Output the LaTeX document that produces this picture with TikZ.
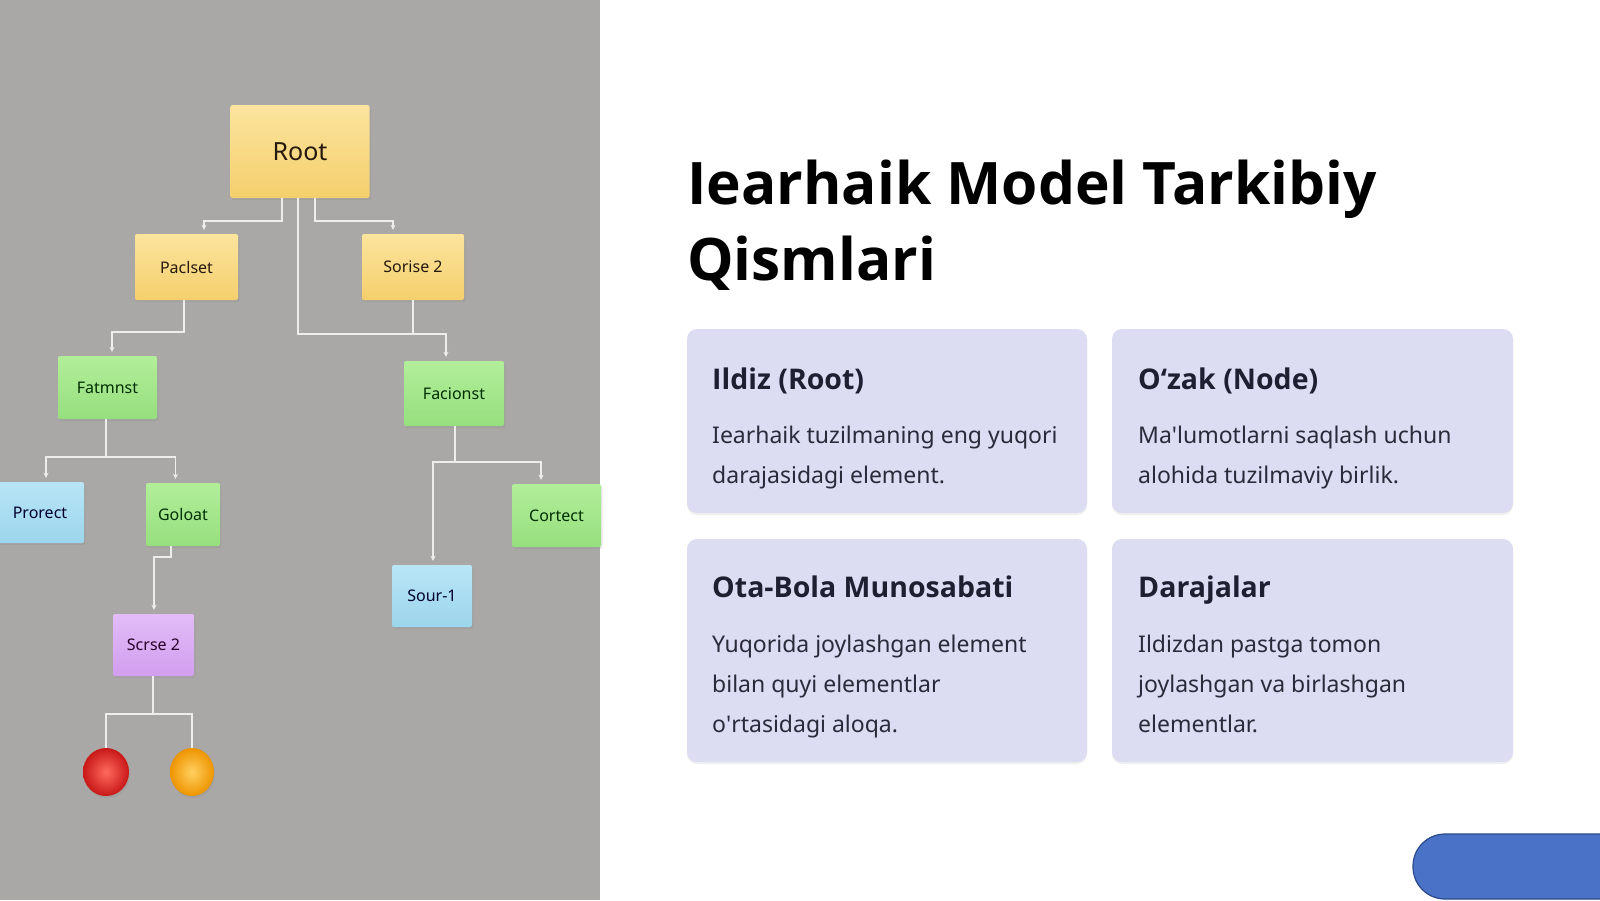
\documentclass[tikz,border=0pt]{standalone}
\usepackage{fontspec}
\setmainfont{Noto Sans}
\newfontfamily\headfont{Open Sans}
\usetikzlibrary{arrows.meta,shadows,shapes.geometric}
\definecolor{panelgray}{HTML}{A9A8A7}
\definecolor{linegray}{HTML}{EDEDED}
\definecolor{cardfill}{HTML}{DCDCF3}
\definecolor{headcol}{HTML}{1E2032}
\definecolor{bodycol}{HTML}{2A2B3A}
\definecolor{ytop}{HTML}{FBE49E}
\definecolor{ybot}{HTML}{F5CF6C}
\definecolor{gtop}{HTML}{B2EE9A}
\definecolor{gbot}{HTML}{96DF7E}
\definecolor{btop}{HTML}{B8E5F6}
\definecolor{bbot}{HTML}{9CD5EC}
\definecolor{ptop}{HTML}{E2BCF7}
\definecolor{pbot}{HTML}{D29EEF}
\definecolor{pillfill}{HTML}{4A72C6}
\definecolor{pilldraw}{HTML}{2B4A8A}
\definecolor{redin}{HTML}{FF6A5E}
\definecolor{redout}{HTML}{C81818}
\definecolor{orgin}{HTML}{FFD060}
\definecolor{orgout}{HTML}{EE9400}
\tikzset{
  tbox/.style={rectangle, rounded corners=2pt, inner sep=0pt, font=\fontsize{16}{18}\selectfont,
    drop shadow={shadow xshift=1.5pt, shadow yshift=-2pt, opacity=0.18}},
  ybox/.style={tbox, top color=ytop, bottom color=ybot, text=black!80!brown},
  gbox/.style={tbox, top color=gtop, bottom color=gbot, text=black!70!green!60!black},
  bbox/.style={tbox, top color=btop, bottom color=bbot, text=black!70!blue!60!black},
  pbox/.style={tbox, top color=ptop, bottom color=pbot, text=black!70!violet},
  ballstyle/.style={ellipse, inner sep=0pt, minimum width=46pt, minimum height=48pt,
    drop shadow={shadow xshift=1pt, shadow yshift=-2pt, opacity=0.2}},
  conn/.style={draw=linegray, line width=1.8pt},
  arr/.style={conn, -{Stealth[length=5pt,width=5pt]}, shorten >=4pt},
  card/.style={rectangle, rounded corners=10pt, fill=cardfill, inner sep=0pt,
    drop shadow={shadow xshift=0pt, shadow yshift=-2pt, opacity=0.12}},
  cardhead/.style={anchor=base west, inner sep=0pt, text=headcol, font=\headfont\fontsize{28.5}{34}\selectfont\bfseries},
  cardbody/.style={anchor=base west, inner sep=0pt, text=bodycol, font=\fontsize{23}{28}\selectfont},
  titlestyle/.style={anchor=base west, inner sep=0pt, text=black, font=\headfont\fontsize{58.6}{76}\selectfont\bfseries}
}
\begin{document}
\begin{tikzpicture}[x=1pt,y=-1pt]
\useasboundingbox (0,0) rectangle (1600,900);
\fill[white] (0,0) rectangle (1600,900);
\fill[panelgray] (0,0) rectangle (600,900);

% tree nodes
\node[ybox, minimum width=139pt, minimum height=93pt, font=\fontsize{25}{28}\selectfont] (root) at (300,151.5) {Root};
\node[ybox, minimum width=103pt, minimum height=66pt] (paci) at (186.5,267) {Paclset};
\node[ybox, minimum width=102pt, minimum height=66pt] (sor) at (413,267) {Sorise 2};
\node[gbox, minimum width=99pt, minimum height=63pt] (fat) at (107.5,387.5) {Fatmnst};
\node[gbox, minimum width=100pt, minimum height=65pt] (fac) at (454,393.5) {Facionst};
\node[bbox, minimum width=88pt, minimum height=61pt] (pro) at (40,512.5) {Prorect};
\node[gbox, minimum width=74pt, minimum height=63pt] (gol) at (183,514.5) {Goloat};
\node[gbox, minimum width=89pt, minimum height=63pt] (cor) at (556.5,515.5) {Cortect};
\node[bbox, minimum width=80pt, minimum height=62pt] (sour) at (432,596) {Sour-1};
\node[pbox, minimum width=81pt, minimum height=62pt] (scr) at (153.5,645) {Scrse 2};
\node[ballstyle, inner color=redin, outer color=redout] (red) at (106,772) {};
\node[ballstyle, minimum width=44pt, inner color=orgin, outer color=orgout] (org) at (192,772) {};

% connectors
\draw[arr] (root.south -| 282,0) -- (282,221) -- (204,221) -- (paci.north -| 204,0);
\draw[arr] (root.south -| 315,0) -- (315,221) -- (393,221) -- (sor.north -| 393,0);
\draw[arr] (root.south -| 298,0) -- (298,334) -- (446,334) -- (fac.north -| 446,0);
\draw[conn] (sor.south -| 413,0) -- (413,334);
\draw[arr] (paci.south -| 184,0) -- (184,332) -- (112,332) -- (fat.north -| 112,0);
\draw[arr] (fat.south -| 106,0) -- (106,457) -- (46,457) -- (pro.north -| 46,0);
\draw[arr] (106,457) -- (175.5,457) -- (gol.north -| 175.5,0);
\draw[arr] (fac.south -| 455,0) -- (455,462) -- (433,462) -- (sour.north -| 433,0);
\draw[arr] (455,462) -- (541,462) -- (cor.north -| 541,0);
\draw[arr] (gol.south -| 171,0) -- (171,557) -- (154,557) -- (scr.north -| 154,0);
\draw[conn] (scr.south -| 153,0) -- (153,714) -- (106,714) -- (red.north);
\draw[conn] (153,714) -- (192,714) -- (org.north);

% title
\node[titlestyle] (t1) at (687,204) {Iearhaik Model Tarkibiy};
\node[titlestyle] (t2) at (687,280) {Qismlari};

% cards
\node[card, minimum width=400pt, minimum height=184pt] (c1) at (887,421) {};
\node[card, minimum width=401pt, minimum height=184pt] (c2) at (1312.5,421) {};
\node[card, minimum width=400pt, minimum height=223pt] (c3) at (887,650.5) {};
\node[card, minimum width=401pt, minimum height=223pt] (c4) at (1312.5,650.5) {};

\node[cardhead] (h1) at (712,389) {Ildiz (Root)};
\node[cardbody] (b11) at (712,443) {Iearhaik tuzilmaning eng yuqori};
\node[cardbody] (b12) at (712,483) {darajasidagi element.};

\node[cardhead] (h2) at (1138,389) {O‘zak (Node)};
\node[cardbody] (b21) at (1138,443) {Ma\textquotesingle lumotlarni saqlash uchun};
\node[cardbody] (b22) at (1138,483) {alohida tuzilmaviy birlik.};

\node[cardhead] (h3) at (712,597) {Ota-Bola Munosabati};
\node[cardbody] (b31) at (712,652) {Yuqorida joylashgan element};
\node[cardbody] (b32) at (712,692) {bilan quyi elementlar};
\node[cardbody] (b33) at (712,732) {o\textquotesingle rtasidagi aloqa.};

\node[cardhead] (h4) at (1138,597) {Darajalar};
\node[cardbody] (b41) at (1138,652) {Ildizdan pastga tomon};
\node[cardbody] (b42) at (1138,692) {joylashgan va birlashgan};
\node[cardbody] (b43) at (1138,732) {elementlar.};

% pill button
\draw[fill=pillfill, draw=pilldraw, line width=1.2pt, rounded corners=32pt] (1413,834) rectangle (1680,899);
\end{tikzpicture}
\end{document}
